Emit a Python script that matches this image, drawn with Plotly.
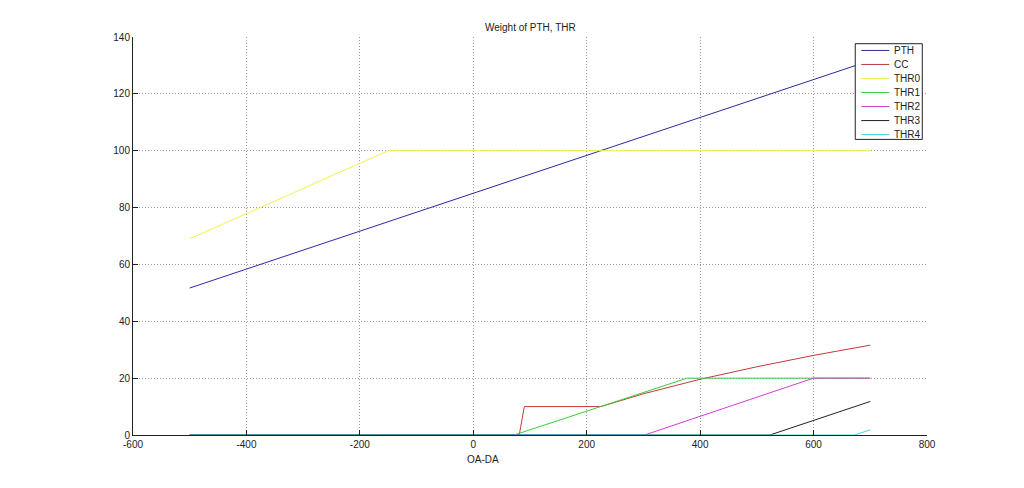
import plotly.graph_objects as go

# ---- data ----
pth_x = [-500, 700]
pth_y = [51.7, 131.7]

cc_x = [-500, 81, 90, 225, 300, 400, 500, 600, 700]
cc_y = [0, 0, 10, 10, 14.5, 19.6, 24.0, 28.0, 31.6]

thr0_x = [-500, -150, 700]
thr0_y = [69, 100, 100]

thr1_x = [-500, 72, 377, 700]
thr1_y = [0, 0, 20, 20]

thr2_x = [-500, 302, 600, 700]
thr2_y = [0, 0, 20, 20]

thr3_x = [-500, 523, 700]
thr3_y = [0, 0, 11.8]

thr4_x = [-500, 672, 700]
thr4_y = [0, 0, 1.8]

names = ["PTH", "CC", "THR0", "THR1", "THR2", "THR3", "THR4"]
xs = [pth_x, cc_x, thr0_x, thr1_x, thr2_x, thr3_x, thr4_x]
ys = [pth_y, cc_y, thr0_y, thr1_y, thr2_y, thr3_y, thr4_y]
colors = ["#2a2a9c", "#c43a3a", "#f2f24a", "#3ccc3c", "#d23ed2", "#222222", "#3ed6e6"]

x_ticks = [-600, -400, -200, 0, 200, 400, 600, 800]
y_ticks = [0, 20, 40, 60, 80, 100, 120, 140]

fig = go.Figure()
for n, x, y, c in zip(names, xs, ys, colors):
    fig.add_trace(go.Scatter(x=x, y=y, mode="lines", name=n,
                             line=dict(color=c, width=1), showlegend=False))

font_family = "Liberation Sans, Arial, sans-serif"

# plot area in window pixels (page has an 8px body margin)
PL, PR, PT, PB = 133.3, 926.7, 37.3, 434.5
def px(xp):
    return (xp - PL) / (PR - PL)
def py(yp):
    return (PB - yp) / (PB - PT)

shapes = [dict(type="rect", xref="paper", yref="paper",
               x0=px(855), x1=px(922), y0=py(139.5), y1=py(44),
               line=dict(color="#222222", width=1), fillcolor="white", layer="above")]
annotations = [
    dict(text="Weight of PTH, THR", x=0.5, y=1, xref="paper", yref="paper",
         xanchor="center", yanchor="bottom", yshift=2, showarrow=False,
         font=dict(family=font_family, size=10, color="#222222")),
    dict(text="OA-DA", x=px(483), y=0, xref="paper", yref="paper",
         xanchor="center", yanchor="top", yshift=-17, showarrow=False,
         font=dict(family=font_family, size=10, color="#222222")),
]
for i, (n, c) in enumerate(zip(names, colors)):
    yy = 50.7 + i * 14.0
    shapes.append(dict(type="line", xref="paper", yref="paper",
                       x0=px(861), x1=px(889), y0=py(yy), y1=py(yy),
                       line=dict(color=c, width=1), layer="above"))
    annotations.append(dict(text=n, x=px(892), y=py(yy), xref="paper", yref="paper",
                            xanchor="left", yanchor="middle", showarrow=False,
                            font=dict(family=font_family, size=10, color="#222222")))

fig.update_layout(
    width=1024, height=488,
    margin=dict(l=125, r=105, t=29, b=61),
    paper_bgcolor="white", plot_bgcolor="white",
    font=dict(family=font_family, size=10, color="#222222"),
    showlegend=False,
    shapes=shapes,
    annotations=annotations,
)
fig.update_xaxes(range=[-600, 800], tickvals=x_ticks, ticktext=[str(v) for v in x_ticks],
                 showgrid=True, gridcolor="#9a9a9a", griddash="1px,2px", gridwidth=1,
                 zeroline=False, showline=True, linecolor="#222222", linewidth=1,
                 ticks="inside", ticklen=5, tickcolor="#222222", mirror=False)
fig.update_yaxes(range=[0, 140], tickvals=y_ticks, ticktext=[str(v) for v in y_ticks],
                 showgrid=True, gridcolor="#9a9a9a", griddash="1px,2px", gridwidth=1,
                 zeroline=False, showline=True, linecolor="#222222", linewidth=1,
                 ticks="inside", ticklen=5, tickcolor="#222222", mirror=False)

fig.write_html("out.html")
